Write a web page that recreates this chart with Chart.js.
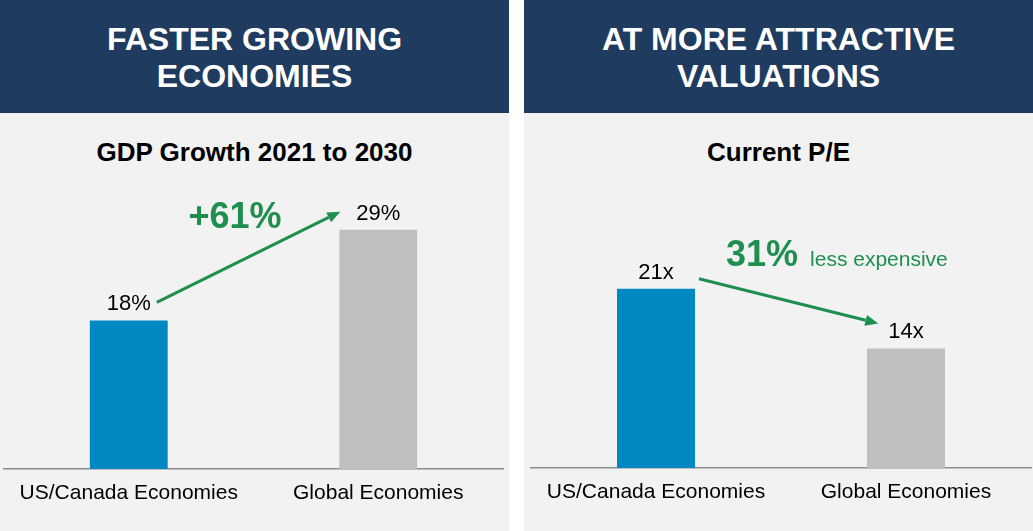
<!DOCTYPE html>
<html>
<head>
<meta charset="utf-8">
<script src="https://cdn.jsdelivr.net/npm/chart.js@4.4.1/dist/chart.umd.min.js"></script>
<style>
  html, body { margin: 0; padding: 0; background: #ffffff; }
  body { width: 1033px; height: 531px; position: relative; overflow: hidden; font-family: "Liberation Sans", Arial, sans-serif; }
  .panel { position: absolute; top: 0; width: 509px; height: 531px; background: #F2F2F2; }
  .header { position: absolute; left: 0; top: 0; width: 509px; height: 113px; background: #1F3B5F; }
  .header div { position: absolute; left: 0; top: 21px; width: 100%; text-align: center; color: #ffffff; font-weight: bold; font-size: 32px; line-height: 37px; }
  .title { position: absolute; left: 0; top: 137px; width: 100%; text-align: center; color: #000; font-weight: bold; font-size: 26px; line-height: 30px; }
  .cv { position: absolute; left: 0; top: 113px; width: 509px; height: 418px; }
</style>
</head>
<body>
<div class="panel" style="left:0">
  <div class="header"><div>FASTER GROWING<br>ECONOMIES</div></div>
  <div class="title">GDP Growth 2021 to 2030</div>
  <div class="cv"><canvas id="c1" width="509" height="418"></canvas></div>
</div>
<div class="panel" style="left:524px">
  <div class="header"><div>AT MORE ATTRACTIVE<br>VALUATIONS</div></div>
  <div class="title">Current P/E</div>
  <div class="cv"><canvas id="c2" width="509" height="418"></canvas></div>
</div>
<script>
// ---- data ----
const categories = ['US/Canada Economies', 'Global Economies'];
const gdpGrowth = [18, 29];          // % growth 2021-2030
const gdpSuffix = '%';
const gdpChange = '+61%';
const currentPE = [21, 14];          // P/E multiple
const peSuffix = 'x';
const peChange = '31%';
const peChangeNote = 'less expensive';
const barColors = ['#0088C2', '#BFBFBF'];
const green = '#1F8F50';

function drawArrow(ctx, x1, y1, x2, y2) {
  const ang = Math.atan2(y2 - y1, x2 - x1);
  const head = 13, half = 5.5;
  const bx = x2 - head * Math.cos(ang), by = y2 - head * Math.sin(ang);
  ctx.save();
  ctx.strokeStyle = green; ctx.fillStyle = green; ctx.lineWidth = 3;
  ctx.beginPath(); ctx.moveTo(x1, y1); ctx.lineTo(bx, by); ctx.stroke();
  ctx.beginPath();
  ctx.moveTo(x2, y2);
  ctx.lineTo(bx + half * Math.sin(ang), by - half * Math.cos(ang));
  ctx.lineTo(bx - half * Math.sin(ang), by + half * Math.cos(ang));
  ctx.closePath(); ctx.fill();
  ctx.restore();
}

const annotPlugin = {
  id: 'annot',
  afterDatasetsDraw(chart, args, opts) {
    const ctx = chart.ctx;
    const meta = chart.getDatasetMeta(0);
    const data = chart.data.datasets[0].data;
    ctx.save();
    ctx.font = '22px "Liberation Sans", Arial, sans-serif';
    ctx.fillStyle = '#000';
    ctx.textAlign = 'center';
    ctx.textBaseline = 'alphabetic';
    const lab = [];
    meta.data.forEach((bar, i) => {
      const txt = data[i] + opts.suffix;
      const base = bar.y - 10;
      ctx.fillText(txt, bar.x, base);
      const w = ctx.measureText(txt).width;
      lab.push({ left: bar.x - w / 2, right: bar.x + w / 2, base: base, mid: base - 8, top: base - 16, barLeft: bar.x - bar.width / 2, barRight: bar.x + bar.width / 2 });
    });
    ctx.restore();
    if (opts.mode === 'up') {
      drawArrow(ctx, lab[0].right + 6, lab[0].mid, lab[1].barLeft + 1, lab[1].mid);
      ctx.save();
      ctx.font = 'bold 36px "Liberation Sans", Arial, sans-serif';
      ctx.fillStyle = green; ctx.textAlign = 'center'; ctx.textBaseline = 'alphabetic';
      const cx = (lab[0].right + lab[1].barLeft) / 2 - 10;
      ctx.fillText(opts.big, cx, lab[1].base + 8);
      ctx.restore();
    } else {
      drawArrow(ctx, lab[0].barRight + 4, lab[0].base, lab[1].left - 10, lab[1].top + 1);
      ctx.save();
      ctx.font = 'bold 36px "Liberation Sans", Arial, sans-serif';
      ctx.fillStyle = green; ctx.textAlign = 'left'; ctx.textBaseline = 'alphabetic';
      const x0 = lab[0].barRight + 31;
      const y0 = lab[0].base - 13;
      ctx.fillText(opts.big, x0, y0);
      const w = ctx.measureText(opts.big).width;
      ctx.font = '21px "Liberation Sans", Arial, sans-serif';
      ctx.fillText(opts.note, x0 + w + 12, y0);
      ctx.restore();
    }
  }
};

function makeChart(id, values, yMax, pad, annot) {
  return new Chart(document.getElementById(id), {
    type: 'bar',
    data: {
      labels: categories,
      datasets: [{ data: values, backgroundColor: barColors, borderWidth: 0, barPercentage: 0.312, categoryPercentage: 1 }]
    },
    options: {
      responsive: false,
      animation: false,
      layout: { padding: pad },
      plugins: { legend: { display: false }, tooltip: { enabled: false }, title: { display: false }, annot: annot },
      scales: {
        x: {
          grid: { display: false, drawTicks: false },
          border: { display: true, color: '#8C8C8C', width: 1.5 },
          ticks: { color: '#000', padding: 12, font: { family: '"Liberation Sans", Arial, sans-serif', size: 21, lineHeight: 1.2 } },
          afterFit(scale) { scale.height = 50; }
        },
        y: { display: false, min: 0, max: yMax }
      }
    },
    plugins: [annotPlugin]
  });
}

makeChart('c1', gdpGrowth, 35.5, { top: 63, left: 4, right: 6, bottom: 12 }, { suffix: gdpSuffix, mode: 'up', big: gdpChange });
makeChart('c2', currentPE, 34.2, { top: 63, left: 7, right: 2, bottom: 13 }, { suffix: peSuffix, mode: 'down', big: peChange, note: peChangeNote });
</script>
</body>
</html>
